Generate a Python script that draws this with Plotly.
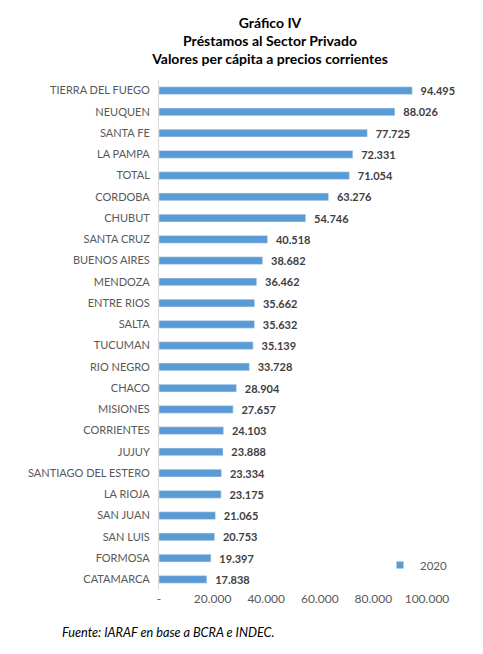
import plotly.graph_objects as go

# Provincias (de arriba hacia abajo, como en el grafico)
provincias = [
    "TIERRA DEL FUEGO", "NEUQUEN", "SANTA FE", "LA PAMPA", "TOTAL", "CORDOBA",
    "CHUBUT", "SANTA CRUZ", "BUENOS AIRES", "MENDOZA", "ENTRE RIOS", "SALTA",
    "TUCUMAN", "RIO NEGRO", "CHACO", "MISIONES", "CORRIENTES", "JUJUY",
    "SANTIAGO DEL ESTERO", "LA RIOJA", "SAN JUAN", "SAN LUIS", "FORMOSA", "CATAMARCA",
]
prestamos_2020 = [
    94495, 88026, 77725, 72331, 71054, 63276,
    54746, 40518, 38682, 36462, 35662, 35632,
    35139, 33728, 28904, 27657, 24103, 23888,
    23334, 23175, 21065, 20753, 19397, 17838,
]
tick_vals = [0, 20000, 40000, 60000, 80000, 100000]
tick_text = ["-", "20.000", "40.000", "60.000", "80.000", "100.000"]

FONT = "Lato"
BLUE = "#5B9BD5"

fig = go.Figure()
fig.add_trace(go.Bar(
    name="2020",
    x=prestamos_2020,
    y=provincias,
    orientation="h",
    width=0.36,
    marker_color=BLUE,
    texttemplate="\u00a0\u00a0%{x:,.0f}",
    textposition="outside",
    constraintext="none",
    cliponaxis=False,
    showlegend=False,
    textfont=dict(family=FONT, size=11, color="#404040", weight="bold"),
))
# legend entry only (small square like the original)
fig.add_trace(go.Scatter(
    name="2020",
    x=[None], y=[None],
    mode="markers",
    marker=dict(symbol="square", size=7, color=BLUE),
))

fig.update_layout(
    width=483,
    height=654,
    separators=",.",
    margin=dict(l=151, r=64, t=72, b=72),
    paper_bgcolor="white",
    plot_bgcolor="white",
    font=dict(family=FONT, color="#595959"),
    title=dict(
        text="<b>Gráfico IV<br>Préstamos al Sector Privado<br>Valores per cápita a precios corrientes</b>",
        x=262 / 483, xanchor="center",
        y=1 - 20 / 654, yanchor="top",
        font=dict(family=FONT, size=14, color="black"),
    ),
    xaxis=dict(
        range=[0, 100000],
        tickvals=tick_vals,
        ticktext=tick_text,
        tickfont=dict(family=FONT, size=12, color="#595959"),
        showgrid=False,
        zeroline=False,
        showline=False,
        ticks="",
        automargin=False,
    ),
    yaxis=dict(
        autorange="reversed",
        tickfont=dict(family=FONT, size=11, color="#595959"),
        showgrid=False,
        showline=True,
        linecolor="#D9D9D9",
        linewidth=1,
        ticks="",
        ticklabelstandoff=6,
        automargin=False,
    ),
    showlegend=True,
    legend=dict(
        x=(372 - 151) / 268, xanchor="left",
        y=(582 - 557) / 510, yanchor="middle",
        font=dict(family=FONT, size=11.5, color="#595959"),
        bgcolor="rgba(0,0,0,0)",
        itemwidth=30,
    ),
    annotations=[
        dict(
            text="<i>Fuente: IARAF en base a BCRA e INDEC.</i>",
            xref="paper", yref="paper",
            x=-99 / 268, y=-42 / 510,
            xanchor="left", yanchor="middle",
            showarrow=False,
            font=dict(family=FONT, size=12.7, color="black"),
        )
    ],
)

fig.write_html("out.html")
